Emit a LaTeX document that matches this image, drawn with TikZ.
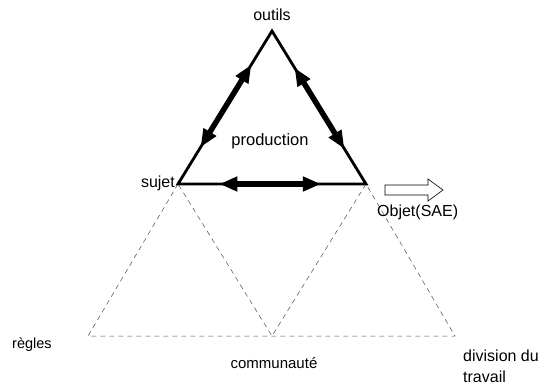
\documentclass[tikz,border=0pt]{standalone}
\usepackage{fontspec}
\setmainfont{Liberation Sans}
\usetikzlibrary{arrows.meta,calc}
\begin{document}
\begin{tikzpicture}[x=1pt,y=-1pt,
  lbl/.style={font=\fontsize{16}{21}\selectfont, inner sep=0pt},
  side/.style={line width=2.8pt, line join=miter},
  dbl/.style={line width=5.5pt, {Triangle[length=18pt,width=14pt]}-{Triangle[length=18pt,width=14pt]}},
  thin dash/.style={line width=0.5pt, draw=black!70, dash pattern=on 5pt off 4pt}]
\useasboundingbox (0,0) rectangle (546,383);

% vertices
\coordinate (O) at (272,31);
\coordinate (S) at (178,184);
\coordinate (Ob) at (366,184);
\coordinate (R) at (88,336);
\coordinate (C) at (272,336);
\coordinate (D) at (455,336);

% lower (dashed) triangles
\draw[thin dash] (S) -- (R) -- (D) -- (Ob) -- (C) -- (S);

% upper triangle
\draw[side] (O) -- (S) -- (Ob) -- cycle;

% double arrows along the sides
\draw[dbl] ($(O)!0.22!(S)$) -- ($(O)!0.76!(S)$);
\draw[dbl] ($(O)!0.24!(Ob)$) -- ($(O)!0.77!(Ob)$);
\draw[dbl] ($(S)!0.22!(Ob)$) -- ($(S)!0.76!(Ob)$);

% hollow arrow towards the object
\draw[line width=0.6pt, line join=miter]
  (385,185) -- (428,185) -- (428,179) -- (443,190) -- (428,201) -- (428,195) -- (385,195) -- cycle;

% labels
\node[lbl] (outils) at (272,15) {outils};
\node[lbl, font=\fontsize{16.5}{20}\selectfont] (prod) at (270,141) {production};
\node[lbl, anchor=east] (sujet) at (175,183) {sujet};
\node[lbl, anchor=west] (objet) at (377,212) {Objet(SAE)};
\node[lbl, anchor=west, font=\fontsize{14.5}{18}\selectfont] (regles) at (12,345) {règles};
\node[lbl, font=\fontsize{15}{18}\selectfont] (comm) at (274,363) {communauté};
\node[lbl, anchor=west, align=left] (div) at (463,366) {division du\\travail};
\end{tikzpicture}
\end{document}
